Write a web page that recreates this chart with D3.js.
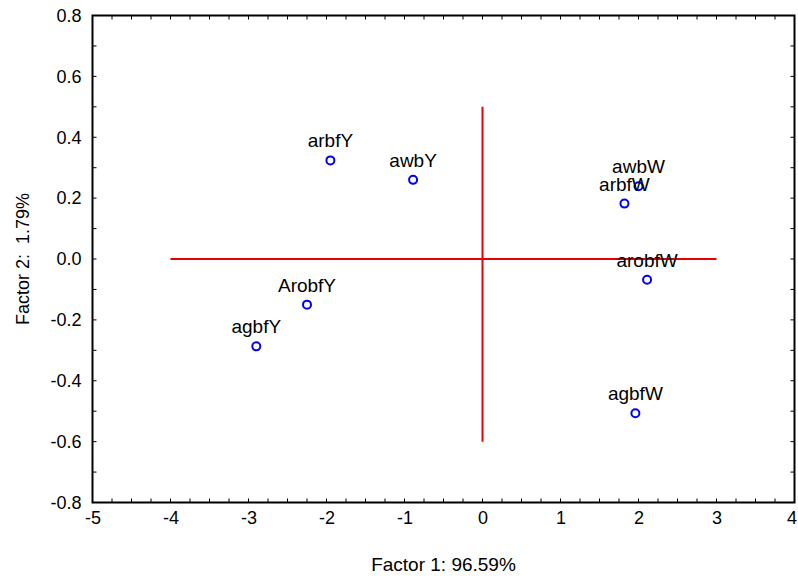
<!DOCTYPE html>
<html><head><meta charset="utf-8">
<script src="https://cdn.jsdelivr.net/npm/d3@7"></script>
<style>body{margin:0;background:#fff}svg{display:block}text{font-family:"Liberation Sans",Arial,sans-serif}</style>
</head><body>
<script>
const labels = ["arbfY","awbY","awbW","arbfW","arobfW","ArobfY","agbfY","agbfW"];
const factor1 = [-1.95,-0.89,2.00,1.82,2.11,-2.25,-2.90,1.96];
const factor2 = [0.324,0.260,0.239,0.182,-0.068,-0.150,-0.287,-0.507];
const xTicks = [-5,-4,-3,-2,-1,0,1,2,3,4];
const yTicks = [-0.8,-0.6,-0.4,-0.2,0.0,0.2,0.4,0.6,0.8];
const hLine = {x:[-4,3], y:[0,0]};
const vLine = {x:[0,0], y:[0.5,-0.6]};

const W=798,H=579, L=92.5, R=794.5, T=15.5, B=502.5;
const svg=d3.select("body").append("svg").attr("width",W).attr("height",H);
const x=d3.scaleLinear().domain([-5,4]).range([L,R]);
const y=d3.scaleLinear().domain([-0.8,0.8]).range([B,T]);
const hy=f=>v=>f(v).replace("\u2212","-");

// minor ticks (inward) on all sides
const xMinor=d3.range(-5,4.001,0.25), yMinor=d3.range(-0.8,0.8001,0.1);
const g=svg.append("g");
xMinor.forEach(v=>{
  g.append("line").attr("x1",x(v)).attr("x2",x(v)).attr("y1",B).attr("y2",B-4).attr("stroke","#000");
  g.append("line").attr("x1",x(v)).attr("x2",x(v)).attr("y1",T).attr("y2",T+4).attr("stroke","#000");
});
yMinor.forEach(v=>{
  g.append("line").attr("x1",L).attr("x2",L+4).attr("y1",y(v)).attr("y2",y(v)).attr("stroke","#000");
  g.append("line").attr("x1",R).attr("x2",R-4).attr("y1",y(v)).attr("y2",y(v)).attr("stroke","#000");
});
svg.append("rect").attr("x",L).attr("y",T).attr("width",R-L).attr("height",B-T)
  .attr("fill","none").attr("stroke","#000").attr("stroke-width",2);

// axes labels
const xa=svg.append("g").attr("transform",`translate(0,${B})`)
  .call(d3.axisBottom(x).tickValues(xTicks).tickSize(0).tickPadding(9).tickFormat(hy(d3.format("d"))));
xa.select(".domain").remove();
xa.selectAll("text").attr("font-size",18).attr("fill","#000").attr("font-family","Liberation Sans, Arial");
xa.selectAll("text").filter(d=>d===4).attr("dx",-3);
const ya=svg.append("g").attr("transform",`translate(${L},0)`)
  .call(d3.axisLeft(y).tickValues(yTicks).tickSize(0).tickPadding(11).tickFormat(hy(d3.format(".1f"))));
ya.select(".domain").remove();
ya.selectAll("text").attr("font-size",18).attr("fill","#000").attr("font-family","Liberation Sans, Arial");

svg.append("text").attr("x",(L+R)/2).attr("y",571).attr("text-anchor","middle")
  .attr("font-size",19).text("Factor 1: 96.59%");
svg.append("text").attr("transform",`translate(29,${(T+B)/2}) rotate(-90)`).attr("text-anchor","middle")
  .attr("font-size",18).style("white-space","pre").text("Factor 2:  1.79%");

// red lines
const line=d3.line().x(d=>x(d[0])).y(d=>y(d[1]));
[hLine,vLine].forEach(l=>{
  svg.append("path").attr("d",line(l.x.map((v,i)=>[v,l.y[i]]))).attr("stroke","#e80000").attr("stroke-width",2).attr("fill","none");
});

// points
const data=labels.map((d,i)=>({n:d,a:factor1[i],b:factor2[i]}));
svg.selectAll("circle.p").data(data).join("circle").attr("class","p")
  .attr("cx",d=>x(d.a)).attr("cy",d=>y(d.b)).attr("r",4)
  .attr("fill","none").attr("stroke","#0000ff").attr("stroke-width",2);
svg.selectAll("text.l").data(data).join("text").attr("class","l")
  .attr("x",d=>x(d.a)).attr("y",d=>y(d.b)-13).attr("text-anchor","middle")
  .attr("font-size",19).attr("fill","#000").text(d=>d.n);
</script>
</body></html>
